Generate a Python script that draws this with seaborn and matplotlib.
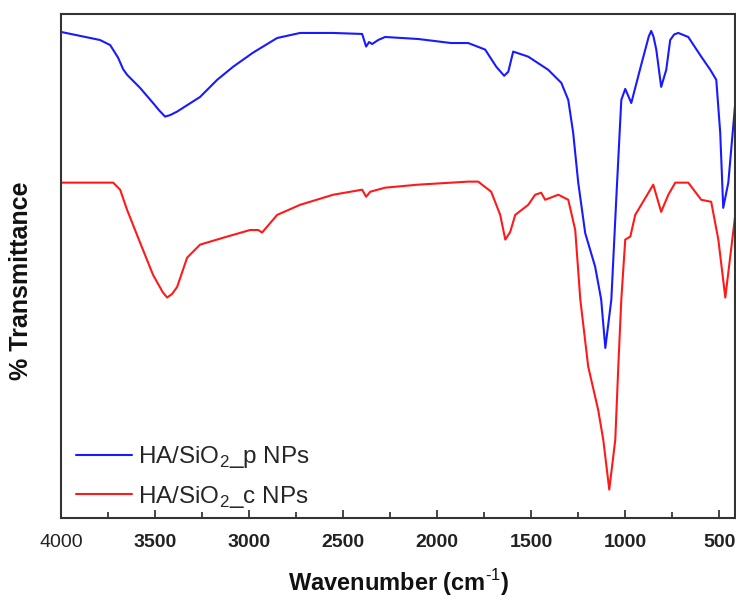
import numpy as np
import matplotlib
matplotlib.use("Agg")
import matplotlib.pyplot as plt
import seaborn as sns
from matplotlib.ticker import MultipleLocator

# FTIR spectra (wavenumber in cm-1, arbitrary % T)
wn_p = [4000, 3793, 3739, 3697, 3670, 3649, 3580, 3511, 3480, 3447, 3420, 3383,
        3261, 3170, 3085, 2979, 2851, 2729, 2553, 2399, 2378, 2362, 2346, 2314,
        2277, 2101, 1926, 1835, 1745, 1686, 1644, 1622, 1596, 1516, 1410, 1340,
        1303, 1277, 1250, 1213, 1160, 1128, 1106, 1074, 1048, 1021, 1000, 968,
        915, 875, 862, 850, 835, 809, 782, 761, 740, 718, 665, 596, 548, 516, 495,
        479, 452, 415]
t_p = [96.4, 94.8, 93.8, 91.3, 89.0, 87.9, 85.3, 82.3, 80.9, 79.6, 79.9, 80.6,
       83.5, 86.9, 89.5, 92.3, 95.2, 96.2, 96.2, 96.0, 93.5, 94.4, 94.0, 94.8,
       95.4, 95.0, 94.2, 94.2, 92.9, 89.5, 87.7, 88.5, 92.5, 91.5, 88.9, 86.3,
       82.9, 76.4, 66.5, 56.5, 49.8, 43.3, 33.7, 43.3, 63.1, 82.9, 85.1, 82.3,
       89.9, 95.5, 96.6, 95.5, 92.9, 85.5, 88.9, 94.8, 95.9, 96.2, 95.4, 91.5,
       88.9, 86.9, 76.4, 61.5, 66.5, 82.3]

wn_c = [4000, 3723, 3686, 3649, 3580, 3511, 3460, 3436, 3410, 3383, 3330, 3261,
        3117, 2995, 2952, 2931, 2851, 2729, 2553, 2399, 2378, 2356, 2277, 2101,
        1835, 1782, 1713, 1665, 1638, 1612, 1585, 1516, 1479, 1447, 1426, 1356,
        1303, 1266, 1239, 1197, 1144, 1117, 1085, 1053, 1037, 1021, 1000, 973,
        947, 851, 809, 771, 734, 665, 596, 543, 505, 468, 415]
t_c = [66.5, 66.5, 65.1, 61.1, 54.6, 48.2, 44.8, 43.7, 44.4, 45.8, 51.6, 54.2,
       55.8, 57.1, 57.1, 56.6, 60.1, 62.1, 64.1, 65.1, 63.7, 64.7, 65.5, 66.1,
       66.7, 66.7, 64.7, 60.1, 55.2, 56.7, 60.1, 62.1, 64.1, 64.5, 63.1, 64.1,
       63.1, 57.1, 43.3, 30.0, 21.4, 15.5, 5.6, 15.5, 30.0, 43.3, 55.2, 55.8,
       60.1, 66.1, 60.7, 64.1, 66.5, 66.5, 63.1, 62.7, 55.2, 43.7, 60.1]

labels = [r"HA/SiO$_2$_p NPs", r"HA/SiO$_2$_c NPs"]
x_ticks = [4000, 3500, 3000, 2500, 2000, 1500, 1000, 500]

sns.set_style("ticks")
plt.rcParams["font.family"] = ["Liberation Sans", "DejaVu Sans"]
plt.rcParams["mathtext.fontset"] = "custom"
plt.rcParams["mathtext.rm"] = "Liberation Sans"
plt.rcParams["mathtext.bf"] = "Liberation Sans:bold"

fig = plt.figure(figsize=(7.36, 6.0), dpi=100)
ax = fig.add_axes([0.083, 0.137, 0.916, 0.84])

sns.lineplot(x=wn_p, y=t_p, color="#1a1aff", lw=1.5, sort=False,
             estimator=None, label=labels[0], ax=ax)
sns.lineplot(x=wn_c, y=t_c, color="#ff1a1a", lw=1.5, sort=False,
             estimator=None, label=labels[1], ax=ax)

ax.set_xlim(4000, 415)
ax.set_ylim(0, 100)
ax.set_xticks(x_ticks)
ax.xaxis.set_minor_locator(MultipleLocator(250))
ax.set_yticks([])
ax.tick_params(axis="x", which="both", direction="in", top=False)
ax.tick_params(axis="x", which="major", length=6, width=1.2, labelsize=14,
               pad=12, labelcolor="#222222")
ax.tick_params(axis="x", which="minor", length=4, width=1.2)
for lbl in ax.get_xticklabels():
    lbl.set_fontweight("bold")
ax.get_xticklabels()[0].set_fontweight("normal")

for side in ax.spines.values():
    side.set_linewidth(1.5)
    side.set_color("#333333")

ax.set_xlabel(r"Wavenumber (cm$^{\text{-1}}$)", fontsize=17, fontweight="bold",
              color="#111111")
ax.xaxis.set_label_coords(0.5, -0.097)
ax.set_ylabel("% Transmittance", fontsize=18, fontweight="bold", color="#111111")
ax.yaxis.set_label_coords(-0.042, 0.47)

ax.legend(loc="lower left", frameon=False, fontsize=17.5, handlelength=2.3,
          handletextpad=0.25, labelspacing=0.55, borderpad=0.4,
          bbox_to_anchor=(-0.010, -0.027))

fig.savefig("out.png", dpi=100)
